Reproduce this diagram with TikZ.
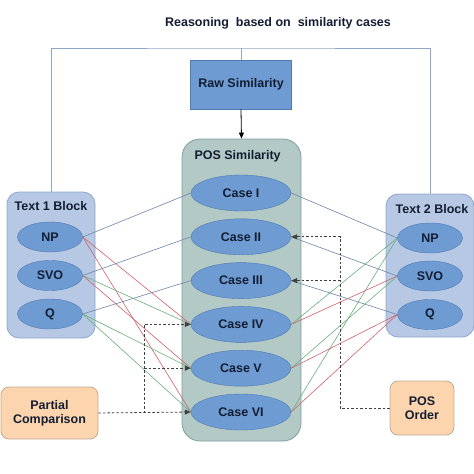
\documentclass[tikz,border=0pt]{standalone}
\usepackage{fontspec}
\setmainfont{Liberation Sans}
\usepackage{tikz}
\usetikzlibrary{shapes.geometric, positioning, arrows.meta}

\definecolor{blockfill}{HTML}{B6C8E3}
\definecolor{blockline}{HTML}{8DA6CC}
\definecolor{posfill}{HTML}{B3C9C5}
\definecolor{posline}{HTML}{7E9EA0}
\definecolor{casefill}{HTML}{6E9BD2}
\definecolor{caseline}{HTML}{4F79B5}
\definecolor{peach}{HTML}{FCD5AE}
\definecolor{peachline}{HTML}{C4AA92}
\definecolor{framecol}{HTML}{8FA6C8}
\definecolor{linkblue}{HTML}{6D86A8}
\definecolor{linkred}{HTML}{D0606A}
\definecolor{linkgreen}{HTML}{6AAE7A}
\definecolor{inktext}{HTML}{141E33}

\tikzset{
  txt/.style={font=\bfseries\fontsize{12.5}{14}\selectfont, text=inktext},
  blockbox/.style={draw=blockline, fill=blockfill, rounded corners=12pt, line width=0.8pt},
  posbox/.style={draw=posline, fill=posfill, rounded corners=18pt, line width=0.8pt},
  case/.style={ellipse, draw=caseline, fill=casefill, minimum width=100pt, minimum height=36pt, inner sep=0pt, txt},
  part/.style={ellipse, draw=caseline, fill=casefill, minimum width=65pt, minimum height=30pt, inner sep=0pt, txt},
  notebox/.style={draw=peachline, fill=peach, rounded corners=8pt, line width=0.8pt, align=center, txt},
  frameline/.style={draw=framecol, line width=0.9pt},
  dotline/.style={draw=black!75, line width=0.8pt, dash pattern=on 2.5pt off 2pt, -{Triangle[length=6pt,width=5pt]}},
  link/.style={line width=0.6pt}
}

\begin{document}
\begin{tikzpicture}[x=1pt,y=-1pt,node distance=43.8pt,on grid]
   \useasboundingbox (0,0) rectangle (474,474);
   \node[txt] (title) at (278,23) {Reasoning\ \ based on\ \ similarity cases};

   % containers
   \node[posbox, minimum width=119pt, minimum height=302pt] (pos) at (241.5,290) {};
   \node[txt, anchor=west] (poslbl) at (191,156) {POS Similarity};
   \node[blockbox, minimum width=88pt, minimum height=146pt] (t1blk) at (51,265) {};
   \node[txt] (t1lbl) at (51,206) {Text 1 Block};
   \node[blockbox, minimum width=88pt, minimum height=143pt] (t2blk) at (430,265.5) {};
   \node[txt] (t2lbl) at (432,209) {Text 2 Block};

   \node[draw=caseline, fill=casefill, line width=0.8pt, minimum width=101pt, minimum height=49pt, txt] (raw) at (241,84.5) {Raw Similarity};

   % cases
   \node[case] (c1) at (241,193) {Case I};
   \node[case, below=of c1] (c2) {Case II};
   \node[case, below=of c2] (c3) {Case III};
   \node[case, below=of c3] (c4) {Case IV};
   \node[case, below=of c4] (c5) {Case V};
   \node[case, below=of c5] (c6) {Case VI};

   % text parts
   \node[part] (np1) at (50,237) {NP};
   \node[part, below=38.5pt of np1] (svo1) {SVO};
   \node[part, below=38.5pt of svo1] (q1) {Q};
   \node[part] (np2) at (430,238) {NP};
   \node[part, below=38pt of np2] (svo2) {SVO};
   \node[part, below=38.5pt of svo2] (q2) {Q};

   \node[notebox, minimum width=97pt, minimum height=52pt] (partial) at (49.5,413) {Partial\\Comparison};
   \node[notebox, minimum width=64pt, minimum height=54pt] (order) at (422,408) {POS\\Order};

   % frame on top
   \coordinate (top) at (241,48);
   \draw[frameline] (t1blk.north) |- (top) -| (t2blk.north);
   \draw[frameline] (top) -- (raw.north);
   \draw[line width=0.8pt, -{Triangle[length=6pt,width=5pt]}] (raw.south) -- (pos.north);

   % links
   \path[link]
    (np1.east) edge[linkblue] (c1.west)
               edge[linkred] (c4.west)
               edge[linkred] (c6.west)
    (svo1.east) edge[linkblue] (c2.west)
                edge[linkgreen] (c4.west)
                edge[linkred] (c5.west)
    (q1.east) edge[linkblue] (c3.west)
              edge[linkgreen] (c5.west)
              edge[linkgreen] (c6.west)
    (np2.west) edge[linkblue] (c1.east)
               edge[linkgreen] (c4.east)
               edge[linkgreen] (c6.east)
    (svo2.west) edge[linkblue] (c2.east)
                edge[linkred] (c4.east)
                edge[linkgreen] (c5.east)
    (q2.west) edge[linkblue] (c3.east)
              edge[linkred] (c5.east)
              edge[linkred] (c6.east);

   % dashed feeds
   \coordinate (lj) at (144,413);
   \coordinate (rj) at (340,408);
   \draw[dotline] (partial.east) -- (c6.west);
   \draw[dotline] (lj) |- (c4.west);
   \draw[dotline] (lj |- c5.west) -- (c5.west);
   \draw[dotline] (order.west) -- (rj) |- (c2.east);
   \draw[dotline] (rj |- c3.east) -- (c3.east);
\end{tikzpicture}
\end{document}
